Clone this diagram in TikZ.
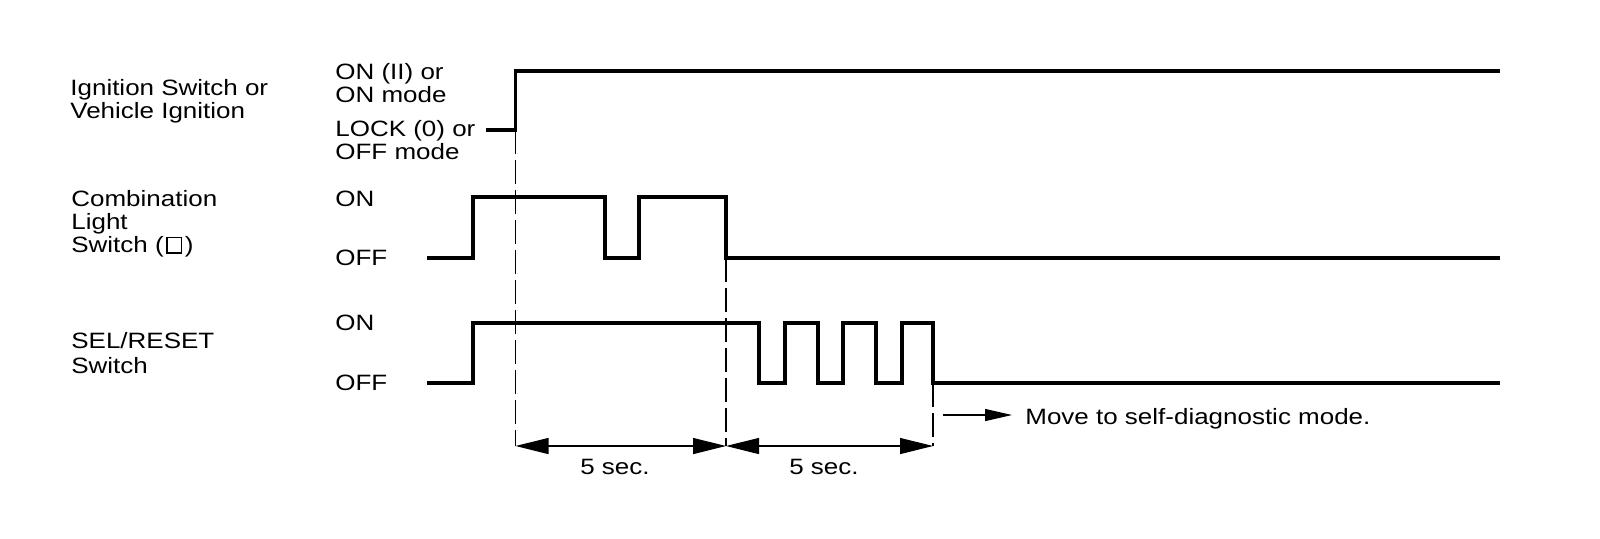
\documentclass[tikz,border=0pt]{standalone}
\usepackage{fontspec}
\setmainfont{Liberation Sans}[FakeStretch=1.17]
\usetikzlibrary{arrows.meta}
\newcommand{\whitesq}{\kern0.12em{\fboxsep=0pt\fboxrule=0.6pt\fbox{\rule{0pt}{0.64em}\hspace{0.6em}}}\kern0.12em}
\begin{document}
\begin{tikzpicture}[x=0.5pt,y=-0.5pt,
  sig/.style={line width=1.65pt, line join=miter},
  guide/.style={line width=0.6pt, dash pattern=on 12pt off 3pt},
  dim/.style={line width=0.6pt, arrows={Triangle[length=16.5pt,width=8pt]-Triangle[length=16.5pt,width=8pt]}},
  lbl/.style={inner sep=0pt, align=left, font=\fontsize{11.1}{11.5}\selectfont},
  lblwide/.style={lbl, font=\fontsize{11.1}{12.5}\selectfont},
]
\useasboundingbox[fill=white] (0,0) rectangle (1600,538);

% left labels
\node[lbl, anchor=north west] (ign) at (70,79) {Ignition Switch or\\Vehicle Ignition};
\node[lbl, anchor=north west] (cls) at (71,190) {Combination\\Light\\Switch (\whitesq)};
\node[lblwide, anchor=north west] (sel) at (71,332) {SEL/RESET\\Switch};

% state labels
\node[lbl, anchor=north west] (ignon) at (335,63) {ON (II) or\\ON mode};
\node[lbl, anchor=north west] (ignoff) at (335,120) {LOCK (0) or\\OFF mode};
\node[lbl, anchor=west] (clson) at (335,199) {ON};
\node[lbl, anchor=west] (clsoff) at (335,258) {OFF};
\node[lbl, anchor=west] (selon) at (335,323) {ON};
\node[lbl, anchor=west] (seloff) at (335,383) {OFF};

% waveforms
\draw[sig] (486,130) -- (515.5,130) -- (515.5,71) -- (1500,71);
\draw[sig] (427,258) -- (473,258) -- (473,197) -- (605,197) -- (605,258) -- (639,258)
  -- (639,197) -- (726,197) -- (726,258) -- (1500,258);
\draw[sig] (427,383) -- (473,383) -- (473,323) -- (759,323) -- (759,383) -- (785,383)
  -- (785,323) -- (818,323) -- (818,383) -- (843,383) -- (843,323) -- (876,323)
  -- (876,383) -- (902,383) -- (902,323) -- (933,323) -- (933,383) -- (1500,383);

% guides
\coordinate (g1t) at (515.5,130);
\coordinate (g1b) at (515.5,446);
\coordinate (g2t) at (726,258);
\coordinate (g2b) at (726,446);
\coordinate (g3t) at (933,383);
\coordinate (g3b) at (933,446);
\draw[guide] (g1t) -- (g1b);
\draw[guide] (g2t) -- (g2b);
\draw[guide] (g3t) -- (g3b);

% dimensions
\draw[dim] (g1b) -- (g2b);
\draw[dim] (g2b) -- (g3b);
\node[lbl, anchor=base] (d1) at (615,474) {5 sec.};
\node[lbl, anchor=base] (d2) at (824,474) {5 sec.};

% diagnostic note
\coordinate (ms) at (943,415);
\node[lbl, anchor=base west] (msg) at (1025,424) {Move to self-diagnostic mode.};
\coordinate (me) at (1012,415);
\draw[line width=0.6pt, arrows={-Triangle[length=13.5pt,width=6pt]}] (ms) -- (me);
\end{tikzpicture}
\end{document}
